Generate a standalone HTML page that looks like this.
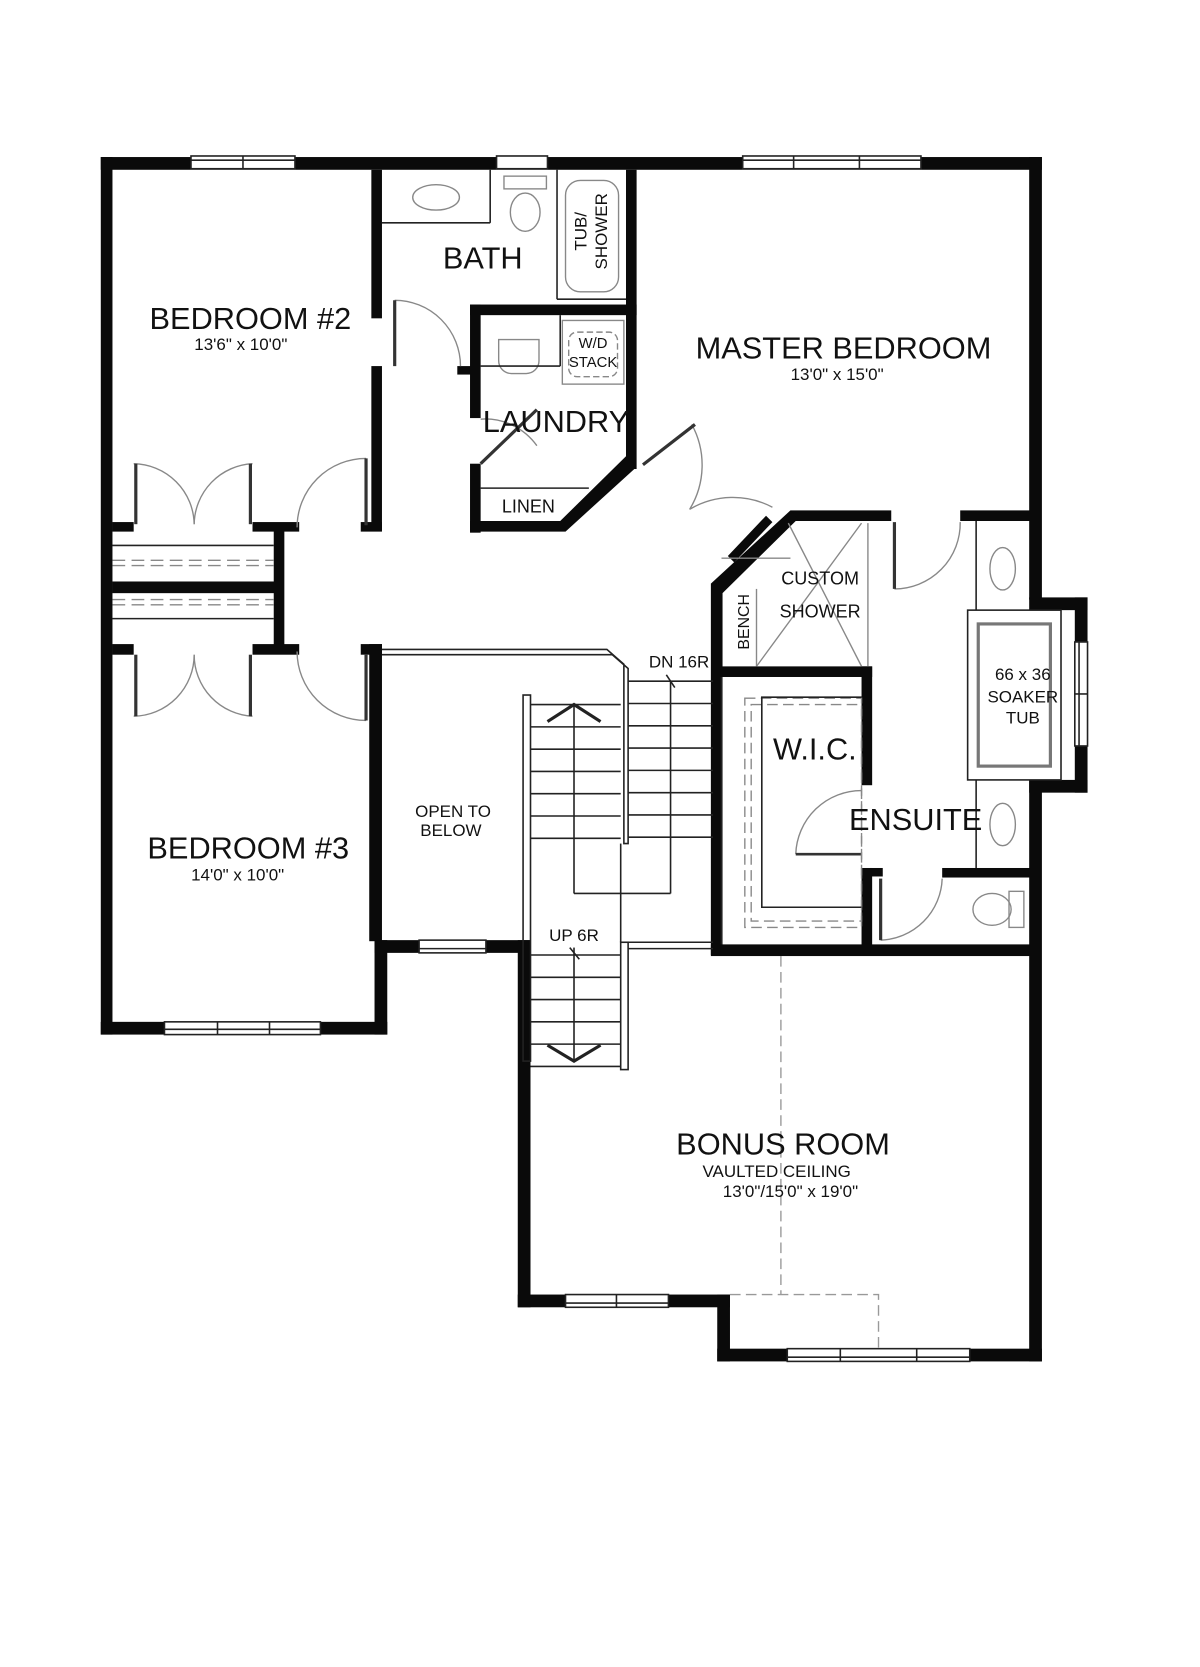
<!DOCTYPE html>
<html><head><meta charset="utf-8"><style>
html,body{margin:0;padding:0;background:#fff;}
svg{display:block}
text{font-family:"Liberation Sans",sans-serif;fill:#111}
</style></head><body>
<svg width="1200" height="1667" viewBox="0 0 1131 1571" preserveAspectRatio="none" xmlns="http://www.w3.org/2000/svg">
<rect width="1131" height="1571" fill="#fff"/>
<g fill="#0a0a0a">
<!-- outer walls -->
<rect x="95" y="148" width="887" height="12"/>
<rect x="95" y="148" width="11" height="827"/>
<rect x="95" y="963" width="270" height="12"/>
<rect x="353" y="886" width="12" height="89"/>
<rect x="353" y="886" width="147" height="12"/>
<rect x="488" y="886" width="12" height="346"/>
<rect x="488" y="1220" width="200" height="12"/>
<rect x="676" y="1220" width="12" height="63"/>
<rect x="676" y="1271" width="306" height="12"/>
<rect x="970" y="148" width="12" height="417"/>
<rect x="970" y="735" width="12" height="548"/>
<rect x="970" y="563" width="55" height="12"/>
<rect x="970" y="735" width="55" height="12"/>
<rect x="1013" y="563" width="12" height="184"/>
<!-- bedroom2 right wall -->
<rect x="350" y="160" width="10" height="140"/>
<rect x="350" y="345" width="10" height="155"/>
<rect x="340" y="492" width="20" height="9"/>
<rect x="106" y="492" width="20" height="9"/>
<rect x="238" y="492" width="44" height="9"/>
<!-- closets -->
<rect x="258" y="500" width="10" height="110"/>
<rect x="106" y="548" width="160" height="11"/>
<rect x="106" y="607" width="20" height="10"/>
<rect x="238" y="607" width="44" height="10"/>
<rect x="340" y="607" width="20" height="10"/>
<rect x="348" y="607" width="12" height="280"/>
<!-- bath / laundry -->
<rect x="590" y="160" width="10" height="282"/>
<rect x="443" y="287" width="157" height="10"/>
<rect x="443" y="287" width="10" height="107"/>
<rect x="443" y="437" width="10" height="65"/>
<rect x="443" y="491" width="90" height="10"/>
<polygon points="528,491 590,430 600,440 533,501"/>
<rect x="431" y="345" width="14" height="8"/>
<!-- shower / wic block -->
<rect x="745" y="481" width="95" height="10"/>
<polygon points="745,481 752,489 681,559 670,550 "/>
<rect x="670" y="550" width="11" height="350"/>
<rect x="680" y="628" width="142" height="10"/>
<rect x="812" y="628" width="10" height="112"/>
<rect x="812" y="818" width="10" height="82"/>
<rect x="670" y="890" width="305" height="11"/>
<rect x="905" y="481" width="70" height="10"/>
<rect x="888" y="818" width="85" height="9"/>
<rect x="820" y="818" width="12" height="8"/>
<polygon points="686,524 722,486 728,492 692,530"/>
</g>
<g fill="none" stroke="#222" stroke-width="1.5">
<!-- windows -->
<rect x="180" y="147" width="98" height="12" fill="#fff"/><line x1="229" y1="147" x2="229" y2="159"/><line x1="180" y1="151" x2="278" y2="151"/>
<rect x="468" y="147" width="48" height="12" fill="#fff"/>
<rect x="700" y="147" width="168" height="12" fill="#fff"/><line x1="748" y1="147" x2="748" y2="159"/><line x1="810" y1="147" x2="810" y2="159"/><line x1="700" y1="151" x2="868" y2="151"/>
<rect x="155" y="963" width="147" height="12" fill="#fff"/><line x1="205" y1="963" x2="205" y2="975"/><line x1="254" y1="963" x2="254" y2="975"/><line x1="155" y1="970" x2="302" y2="970"/>
<rect x="395" y="886" width="63" height="12" fill="#fff"/><line x1="395" y1="894" x2="458" y2="894"/>
<rect x="533" y="1220" width="97" height="12" fill="#fff"/><line x1="581" y1="1220" x2="581" y2="1232"/><line x1="533" y1="1228" x2="630" y2="1228"/>
<rect x="742" y="1271" width="172" height="12" fill="#fff"/><line x1="792" y1="1271" x2="792" y2="1283"/><line x1="864" y1="1271" x2="864" y2="1283"/><line x1="742" y1="1279" x2="914" y2="1279"/>
<rect x="1013" y="605" width="12" height="98" fill="#fff"/><line x1="1013" y1="654" x2="1025" y2="654"/><line x1="1017" y1="605" x2="1017" y2="703"/>
<!-- closet shelves -->
<line x1="106" y1="514" x2="258" y2="514"/><line x1="106" y1="583" x2="258" y2="583"/>
</g>
<g fill="none" stroke="#888" stroke-width="1.3">
<line x1="106" y1="528" x2="258" y2="528" stroke-dasharray="12,6"/><line x1="106" y1="533" x2="258" y2="533" stroke-dasharray="12,6"/>
<line x1="106" y1="565" x2="258" y2="565" stroke-dasharray="12,6"/><line x1="106" y1="570" x2="258" y2="570" stroke-dasharray="12,6"/>
<!-- doors -->
<path d="M126 437 A58 58 0 0 1 183 494"/><path d="M238 437 A58 58 0 0 0 183 494"/>
<path d="M126 675 A58 58 0 0 0 183 617"/><path d="M238 675 A58 58 0 0 1 183 617"/>
<path d="M345 432 A65 65 0 0 0 280 497"/><path d="M345 679 A65 65 0 0 1 280 614"/>
<path d="M372 283 A62 62 0 0 1 434 345"/>
<path d="M453 395 A60 60 0 0 1 506 420"/><line x1="453" y1="437" x2="506" y2="386" stroke="#333" stroke-width="3"/>
<path d="M652 400 A80 80 0 0 1 650 480 A80 80 0 0 1 728 478"/><line x1="606" y1="438" x2="655" y2="400" stroke="#333" stroke-width="3"/>
<path d="M905 492 A62 62 0 0 1 843 555"/><line x1="843" y1="492" x2="843" y2="555" stroke="#333" stroke-width="3"/>
<path d="M812 745 A62 62 0 0 0 750 805"/><line x1="750" y1="805" x2="812" y2="805" stroke="#333" stroke-width="2.5"/>
<path d="M888 828 A60 60 0 0 1 830 886"/><line x1="830" y1="828" x2="830" y2="886" stroke="#333" stroke-width="3"/>
<line x1="372" y1="283" x2="372" y2="345" stroke="#333" stroke-width="3"/>
<line x1="128" y1="437" x2="128" y2="494" stroke="#333" stroke-width="3"/><line x1="236" y1="437" x2="236" y2="494" stroke="#333" stroke-width="3"/>
<line x1="128" y1="617" x2="128" y2="675" stroke="#333" stroke-width="3"/><line x1="236" y1="617" x2="236" y2="675" stroke="#333" stroke-width="3"/>
<line x1="345" y1="432" x2="345" y2="495" stroke="#333" stroke-width="3"/><line x1="345" y1="617" x2="345" y2="679" stroke="#333" stroke-width="3"/>
<!-- fixtures -->
<ellipse cx="411" cy="186" rx="22" ry="12"/>
<rect x="475" y="166" width="40" height="12"/><ellipse cx="495" cy="200" rx="14" ry="18"/>
<rect x="533" y="170" width="50" height="105" rx="14"/>
<path d="M470 320 h38 v20 a12 12 0 0 1 -12 12 h-14 a12 12 0 0 1 -12 -12z"/>
<rect x="530" y="302" width="58" height="60"/><rect x="536" y="313" width="46" height="42" rx="8" stroke-dasharray="6,3"/>
<ellipse cx="945" cy="536" rx="12" ry="20"/><ellipse cx="945" cy="777" rx="12" ry="20"/>
<ellipse cx="935" cy="857" rx="18" ry="15"/><rect x="951" y="840" width="14" height="34"/>
<line x1="680" y1="526" x2="745" y2="526" /><line x1="743" y1="493" x2="812" y2="628"/><line x1="812" y1="493" x2="713" y2="628"/>
<line x1="713" y1="555" x2="713" y2="628"/>
<line x1="818" y1="493" x2="818" y2="628"/>
<rect x="702" y="658" width="110" height="216" stroke-dasharray="10,5"/>
<rect x="708" y="664" width="104" height="204" stroke-dasharray="10,5"/>
</g>
<g fill="none" stroke="#222" stroke-width="1.5">
<line x1="360" y1="210" x2="462" y2="210"/><line x1="462" y1="160" x2="462" y2="210"/>
<line x1="525" y1="160" x2="525" y2="282"/><line x1="525" y1="282" x2="590" y2="282"/>
<line x1="453" y1="345" x2="528" y2="345"/><line x1="528" y1="297" x2="528" y2="345"/>
<line x1="453" y1="460" x2="555" y2="460"/>
<line x1="920" y1="491" x2="920" y2="575"/><line x1="920" y1="735" x2="920" y2="818"/>
<rect x="912" y="575" width="88" height="160" fill="#fff"/><rect x="922" y="588" width="68" height="134" stroke="#777" stroke-width="3"/>
<polyline points="812,657 718,657 718,855 812,855"/>
<line x1="680" y1="638" x2="680" y2="890"/>
<!-- stairs -->
<path d="M360 612 H572 L588 626 V795 H592 V630 L577 617 H360" stroke-width="1.5"/>
<rect x="493" y="655" width="7" height="345"/>
<rect x="585" y="888" width="7" height="120"/>
<line x1="592" y1="888" x2="672" y2="888"/><line x1="592" y1="894" x2="672" y2="894"/>
<line x1="592" y1="642" x2="672" y2="642"/>
<line x1="592" y1="663" x2="672" y2="663"/><line x1="592" y1="684" x2="672" y2="684"/><line x1="592" y1="705" x2="672" y2="705"/><line x1="592" y1="726" x2="672" y2="726"/><line x1="592" y1="747" x2="672" y2="747"/><line x1="592" y1="768" x2="672" y2="768"/><line x1="592" y1="789" x2="672" y2="789"/>
<line x1="500" y1="664" x2="585" y2="664"/><line x1="500" y1="685" x2="585" y2="685"/><line x1="500" y1="706" x2="585" y2="706"/><line x1="500" y1="727" x2="585" y2="727"/><line x1="500" y1="748" x2="585" y2="748"/><line x1="500" y1="769" x2="585" y2="769"/><line x1="500" y1="790" x2="585" y2="790"/>
<line x1="541" y1="664" x2="541" y2="842"/><line x1="541" y1="842" x2="632" y2="842"/><line x1="632" y1="642" x2="632" y2="842"/>
<line x1="585" y1="795" x2="585" y2="888"/>
<line x1="500" y1="900" x2="585" y2="900"/><line x1="500" y1="921" x2="585" y2="921"/><line x1="500" y1="942" x2="585" y2="942"/><line x1="500" y1="963" x2="585" y2="963"/><line x1="500" y1="984" x2="585" y2="984"/><line x1="500" y1="1005" x2="585" y2="1005"/>
<line x1="541" y1="893" x2="541" y2="1000"/>
<line x1="628" y1="636" x2="636" y2="648"/><line x1="537" y1="893" x2="546" y2="904"/>
</g>
<g stroke="#222" stroke-width="3" fill="none">
<polyline points="516,680 541,664 566,680"/><polyline points="516,985 541,1000 566,985"/>
</g>
<g fill="none" stroke="#999" stroke-width="1.3" stroke-dasharray="10,5">
<line x1="736" y1="901" x2="736" y2="1220"/><polyline points="688,1220 828,1220 828,1271"/>
</g>
<!-- labels -->
<text x="236" y="310" font-size="29" text-anchor="middle">BEDROOM #2</text>
<text x="227" y="330" font-size="16" text-anchor="middle">13'6" x 10'0"</text>
<text x="234" y="809" font-size="29" text-anchor="middle">BEDROOM #3</text>
<text x="224" y="830" font-size="16" text-anchor="middle">14'0" x 10'0"</text>
<text x="455" y="253" font-size="29" text-anchor="middle">BATH</text>
<text x="524" y="407" font-size="29" text-anchor="middle">LAUNDRY</text>
<text x="498" y="483" font-size="17" text-anchor="middle">LINEN</text>
<text x="559" y="328" font-size="14" text-anchor="middle">W/D</text>
<text x="559" y="346" font-size="14" text-anchor="middle">STACK</text>
<text transform="translate(553,218) rotate(-90)" font-size="16" text-anchor="middle">TUB/</text>
<text transform="translate(572,218) rotate(-90)" font-size="16" text-anchor="middle">SHOWER</text>
<text x="795" y="338" font-size="29" text-anchor="middle">MASTER BEDROOM</text>
<text x="789" y="358" font-size="16" text-anchor="middle">13'0" x 15'0"</text>
<text x="773" y="551" font-size="17" text-anchor="middle">CUSTOM</text>
<text x="773" y="582" font-size="17" text-anchor="middle">SHOWER</text>
<text transform="translate(706,586) rotate(-90)" font-size="15" text-anchor="middle">BENCH</text>
<text x="964" y="641" font-size="16" text-anchor="middle">66 x 36</text>
<text x="964" y="662" font-size="16" text-anchor="middle">SOAKER</text>
<text x="964" y="682" font-size="16" text-anchor="middle">TUB</text>
<text x="768" y="716" font-size="29" text-anchor="middle">W.I.C.</text>
<text x="863" y="782" font-size="29" text-anchor="middle">ENSUITE</text>
<text x="640" y="629" font-size="16" text-anchor="middle">DN 16R</text>
<text x="541" y="887" font-size="16" text-anchor="middle">UP  6R</text>
<text x="427" y="770" font-size="16" text-anchor="middle">OPEN TO</text>
<text x="425" y="788" font-size="16" text-anchor="middle">BELOW</text>
<text x="738" y="1088" font-size="29" text-anchor="middle">BONUS  ROOM</text>
<text x="732" y="1109" font-size="16" text-anchor="middle">VAULTED CEILING</text>
<text x="745" y="1128" font-size="16" text-anchor="middle">13'0"/15'0" x 19'0"</text>
</svg>
</body></html>
